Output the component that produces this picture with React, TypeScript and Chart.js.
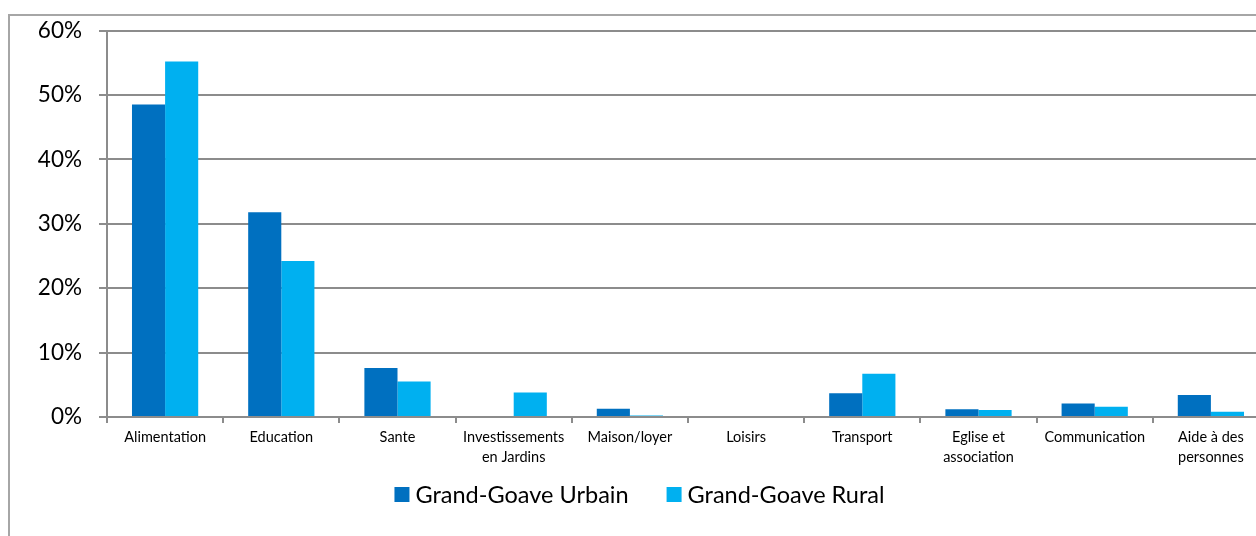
import React, { useEffect, useRef } from "react";
import { Chart, registerables } from "chart.js";

Chart.register(...registerables);

const categories: (string | string[])[] = [
  "Alimentation",
  "Education",
  "Sante",
  ["Investissements", "en Jardins"],
  "Maison/loyer",
  "Loisirs",
  "Transport",
  ["Eglise et", "association"],
  "Communication",
  ["Aide à des", "personnes"],
];

const urbainValues = [48.5, 31.8, 7.6, 0, 1.3, 0, 3.7, 1.2, 2.1, 3.4];
const ruralValues = [55.2, 24.2, 5.5, 3.8, 0.25, 0, 6.7, 1.1, 1.6, 0.8];

const seriesNames = ["Grand-Goave Urbain", "Grand-Goave Rural"];
const seriesColors = ["#0070C0", "#00B0F0"];
const yTicks = [0, 10, 20, 30, 40, 50, 60];

const FONT = "Lato, 'Noto Sans', sans-serif";

const customLegend = {
  id: "customLegend",
  afterDraw(chart: any) {
    const ctx = chart.ctx as CanvasRenderingContext2D;
    const size = 23.5;
    const box = 15;
    const boxGap = 6;
    const itemGap = 38;
    const centerX = 639.5;
    const centerY = 494.5;
    ctx.save();
    ctx.font = `${size}px ${FONT}`;
    const items = chart.data.datasets.map((d: any) => ({
      text: d.label as string,
      color: d.backgroundColor as string,
      w: ctx.measureText(d.label).width,
    }));
    const total =
      items.reduce((a: number, it: any) => a + box + boxGap + it.w, 0) +
      itemGap * (items.length - 1);
    let x = centerX - total / 2;
    ctx.textBaseline = "middle";
    ctx.textAlign = "left";
    for (const it of items) {
      ctx.fillStyle = it.color;
      ctx.fillRect(x, centerY - box / 2, box, box);
      ctx.fillStyle = "#000";
      ctx.fillText(it.text, x + box + boxGap, centerY + 1);
      x += box + boxGap + it.w + itemGap;
    }
    ctx.restore();
  },
};

export default function App() {
  const canvasRef = useRef<HTMLCanvasElement | null>(null);

  useEffect(() => {
    if (!canvasRef.current) return;
    const chart = new Chart(canvasRef.current, {
      type: "bar",
      data: {
        labels: categories,
        datasets: [
          {
            label: seriesNames[0],
            data: urbainValues,
            backgroundColor: seriesColors[0],
            categoryPercentage: 0.57,
            barPercentage: 1,
          },
          {
            label: seriesNames[1],
            data: ruralValues,
            backgroundColor: seriesColors[1],
            categoryPercentage: 0.57,
            barPercentage: 1,
          },
        ],
      },
      plugins: [customLegend],
      options: {
        responsive: false,
        animation: false,
        devicePixelRatio: 1,
        layout: { padding: { left: 0, right: 1, top: 30, bottom: 63 } },
        plugins: {
          tooltip: { enabled: false },
          legend: { display: false },
        },
        scales: {
          x: {
            afterFit: (s: any) => {
              s.height = 56;
            },
            grid: {
              drawOnChartArea: false,
              drawTicks: true,
              tickLength: 6,
              color: "#8c8c8c",
              lineWidth: 2,
              offset: true,
            },
            border: { display: true, color: "#8c8c8c", width: 2 },
            ticks: {
              color: "#000",
              padding: 4,
              maxRotation: 0,
              autoSkip: false,
              font: { family: FONT, size: 14.5, lineHeight: "20px" },
            },
          },
          y: {
            min: 0,
            max: 60,
            afterFit: (s: any) => {
              s.width = 107;
            },
            afterBuildTicks: (s: any) => {
              s.ticks = yTicks.map((v) => ({ value: v }));
            },
            grid: {
              color: "#8c8c8c",
              lineWidth: 2,
              drawTicks: true,
              tickLength: 8,
            },
            border: { display: true, color: "#8c8c8c", width: 2 },
            ticks: {
              color: "#000",
              padding: 17,
              font: { family: FONT, size: 22.5 },
              callback: (v: any) => v + "%",
            },
          },
        },
      },
    });
    return () => chart.destroy();
  }, []);

  return (
    <div
      style={{
        position: "fixed",
        left: 0,
        top: 0,
        width: 1256,
        height: 536,
        overflow: "hidden",
        background: "#fff",
      }}
    >
      <div
        style={{
          position: "absolute",
          left: 8,
          top: 14,
          width: 1400,
          height: 700,
          border: "2px solid #a6a6a6",
        }}
      />
      <canvas
        ref={canvasRef}
        width={1270}
        height={536}
        style={{ position: "absolute", left: 0, top: 0 }}
      />
    </div>
  );
}
